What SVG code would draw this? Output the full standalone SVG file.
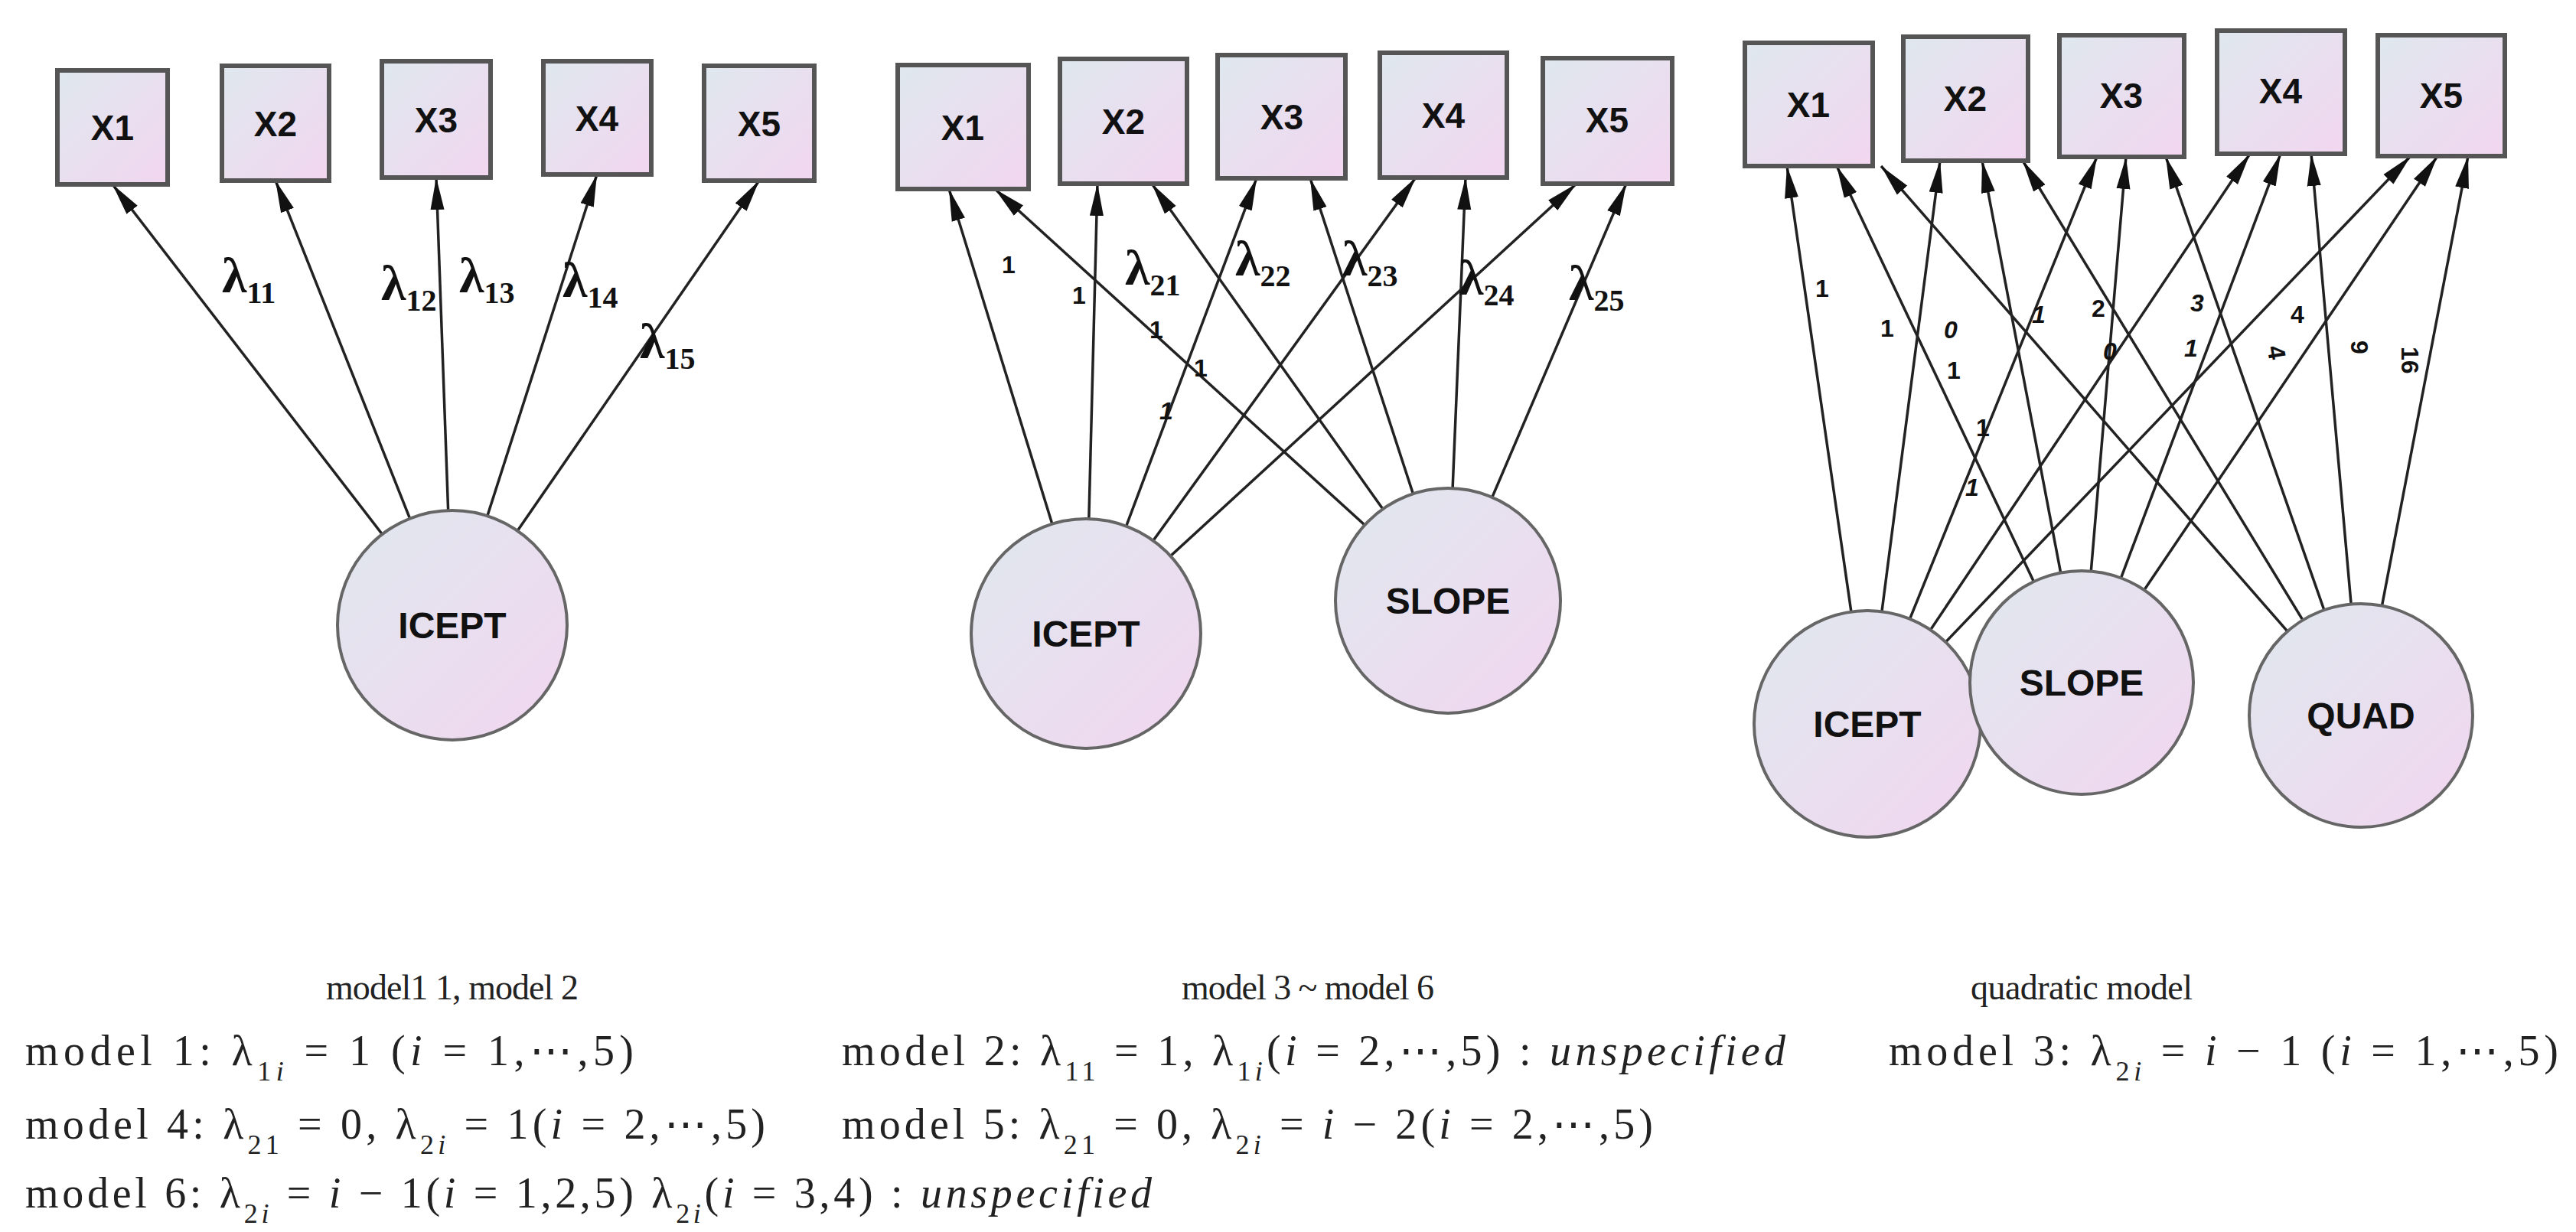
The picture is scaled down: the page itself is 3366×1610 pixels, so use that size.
<svg xmlns="http://www.w3.org/2000/svg" width="3366" height="1610" viewBox="0 0 3366 1610">
<defs>
<linearGradient id="g" x1="0" y1="0" x2="1" y2="1"><stop offset="0" stop-color="#dfe8ee"/><stop offset="1" stop-color="#f2d6f0"/></linearGradient>
<marker id="ah" markerUnits="userSpaceOnUse" markerWidth="44" markerHeight="24" refX="42" refY="12" orient="auto"><path d="M0,3 L42,12 L0,21 Z" fill="#111"/></marker>
<style>
.b{fill:url(#g);stroke:#555;stroke-width:6}
.c{fill:url(#g);stroke:#666;stroke-width:4}
.t{font-family:"Liberation Sans",Arial,sans-serif;font-weight:bold;font-size:46px;text-anchor:middle;fill:#111}
.ct{font-family:"Liberation Sans",Arial,sans-serif;font-weight:bold;font-size:48px;text-anchor:middle;fill:#111}
.cn line{stroke:#222;stroke-width:3.5;marker-end:url(#ah)}
.l{font-family:"Liberation Serif",serif;font-weight:bold;font-size:66px;fill:#111}
.s{font-size:40px}
.fs{font-size:36px}
.n{font-family:"Liberation Sans",Arial,sans-serif;font-weight:bold;font-size:32px;fill:#111}
.cap{font-family:"Liberation Serif",serif;font-size:46px;fill:#222;text-anchor:middle}
.f{font-family:"Liberation Serif",serif;font-size:56px;fill:#222}
.i{font-style:italic}
</style>
</defs>
<rect width="3366" height="1610" fill="#fff"/>
<g id="connectors" class="cn">
<line x1="591" y1="817" x2="147" y2="241"/>
<line x1="591" y1="817" x2="360" y2="236"/>
<line x1="591" y1="817" x2="570" y2="232"/>
<line x1="591" y1="817" x2="780" y2="228"/>
<line x1="591" y1="817" x2="992" y2="236"/>
<line x1="1419" y1="828" x2="1240" y2="247"/>
<line x1="1419" y1="828" x2="1434" y2="240"/>
<line x1="1419" y1="828" x2="1642" y2="233"/>
<line x1="1419" y1="828" x2="1850" y2="232"/>
<line x1="1419" y1="828" x2="2060" y2="240"/>
<line x1="1892" y1="785" x2="1300" y2="247"/>
<line x1="1892" y1="785" x2="1505" y2="240"/>
<line x1="1892" y1="785" x2="1712" y2="233"/>
<line x1="1892" y1="785" x2="1915" y2="232"/>
<line x1="1892" y1="785" x2="2125" y2="240"/>
<line x1="2440" y1="946" x2="2335" y2="217"/>
<line x1="2440" y1="946" x2="2535" y2="210"/>
<line x1="2440" y1="946" x2="2740" y2="205"/>
<line x1="2440" y1="946" x2="2940" y2="201"/>
<line x1="2440" y1="946" x2="3150" y2="204"/>
<line x1="2720" y1="892" x2="2400" y2="217"/>
<line x1="2720" y1="892" x2="2590" y2="210"/>
<line x1="2720" y1="892" x2="2778" y2="205"/>
<line x1="2720" y1="892" x2="2980" y2="201"/>
<line x1="2720" y1="892" x2="3185" y2="204"/>
<line x1="3085" y1="935" x2="2458" y2="217"/>
<line x1="3085" y1="935" x2="2643" y2="210"/>
<line x1="3085" y1="935" x2="2830" y2="205"/>
<line x1="3085" y1="935" x2="3020" y2="201"/>
<line x1="3085" y1="935" x2="3225" y2="204"/>
</g>
<g id="L-X1"><rect class="b" x="75" y="92" width="144" height="149"/><text class="t" x="147" y="183">X1</text></g>
<g id="L-X2"><rect class="b" x="290" y="86" width="140" height="150"/><text class="t" x="360" y="178">X2</text></g>
<g id="L-X3"><rect class="b" x="499" y="80" width="142" height="152"/><text class="t" x="570" y="173">X3</text></g>
<g id="L-X4"><rect class="b" x="710" y="80" width="141" height="148"/><text class="t" x="780" y="171">X4</text></g>
<g id="L-X5"><rect class="b" x="920" y="86" width="144" height="150"/><text class="t" x="992" y="178">X5</text></g>
<g id="L-ICEPT"><circle class="c" cx="591" cy="817" r="150"/><text class="ct" x="591" y="834">ICEPT</text></g>
<g id="M-X1"><rect class="b" x="1173" y="85" width="171" height="162"/><text class="t" x="1258" y="183">X1</text></g>
<g id="M-X2"><rect class="b" x="1385" y="77" width="166" height="163"/><text class="t" x="1468" y="175">X2</text></g>
<g id="M-X3"><rect class="b" x="1591" y="72" width="167" height="161"/><text class="t" x="1675" y="169">X3</text></g>
<g id="M-X4"><rect class="b" x="1803" y="69" width="166" height="163"/><text class="t" x="1886" y="167">X4</text></g>
<g id="M-X5"><rect class="b" x="2016" y="76" width="169" height="164"/><text class="t" x="2100" y="173">X5</text></g>
<g id="M-ICEPT"><circle class="c" cx="1419" cy="828" r="150"/><text class="ct" x="1419" y="845">ICEPT</text></g>
<g id="M-SLOPE"><circle class="c" cx="1892" cy="785" r="147"/><text class="ct" x="1892" y="802">SLOPE</text></g>
<g id="R-X1"><rect class="b" x="2280" y="56" width="167" height="161"/><text class="t" x="2363" y="153">X1</text></g>
<g id="R-X2"><rect class="b" x="2487" y="48" width="163" height="162"/><text class="t" x="2568" y="145">X2</text></g>
<g id="R-X3"><rect class="b" x="2691" y="46" width="163" height="159"/><text class="t" x="2772" y="141">X3</text></g>
<g id="R-X4"><rect class="b" x="2897" y="40" width="167" height="161"/><text class="t" x="2980" y="135">X4</text></g>
<g id="R-X5"><rect class="b" x="3107" y="46" width="166" height="158"/><text class="t" x="3190" y="141">X5</text></g>
<g id="R-ICEPT"><circle class="c" cx="2440" cy="946" r="148"/><text class="ct" x="2440" y="963">ICEPT</text></g>
<g id="R-SLOPE"><circle class="c" cx="2720" cy="892" r="146"/><text class="ct" x="2720" y="909">SLOPE</text></g>
<g id="R-QUAD"><circle class="c" cx="3085" cy="935" r="146"/><text class="ct" x="3085" y="952">QUAD</text></g>
<g id="labels">
<text class="l" x="290" y="382">λ<tspan class="s" dy="14">11</tspan></text>
<text class="l" x="498" y="392">λ<tspan class="s" dy="14">12</tspan></text>
<text class="l" x="600" y="382">λ<tspan class="s" dy="14">13</tspan></text>
<text class="l" x="735" y="388">λ<tspan class="s" dy="14">14</tspan></text>
<text class="l" x="836" y="468">λ<tspan class="s" dy="14">15</tspan></text>
<text class="n" x="1309" y="357">1</text>
<text class="n" x="1401" y="397">1</text>
<text class="l" x="1470" y="372">λ<tspan class="s" dy="14">21</tspan></text>
<text class="l" x="1614" y="360">λ<tspan class="s" dy="14">22</tspan></text>
<text class="l" x="1754" y="360">λ<tspan class="s" dy="14">23</tspan></text>
<text class="l" x="1906" y="385">λ<tspan class="s" dy="14">24</tspan></text>
<text class="l" x="2050" y="392">λ<tspan class="s" dy="14">25</tspan></text>
<text class="n" x="1502" y="442" fill="#611">1</text>
<text class="n" x="1560" y="492">1</text>
<text class="n" x="1515" y="548" font-style="italic">1</text>
<text class="n" x="2372" y="388">1</text>
<text class="n" x="2457" y="440" fill="#4a1a4a">1</text>
<text class="n i" x="2540" y="442">0</text>
<text class="n" x="2544" y="495" fill="#611">1</text>
<text class="n i" x="2655" y="422">1</text>
<text class="n" x="2733" y="414">2</text>
<text class="n i" x="2748" y="470">0</text>
<text class="n i" x="2862" y="407">3</text>
<text class="n i" x="2854" y="466">1</text>
<text class="n" x="2993" y="422">4</text>
<text class="n" x="2972" y="462" transform="rotate(80 2972 452)">4</text>
<text class="n" x="3081" y="454" transform="rotate(90 3081 445)">9</text>
<text class="n" x="3147" y="462" transform="rotate(90 3147 453)">16</text>
<text class="n" x="2582" y="570">1</text>
<text class="n i" x="2568" y="648">1</text>
</g>
<g id="captions">
<text class="cap" x="591" y="1306" textLength="330">model1 1, model 2</text>
<text class="cap" x="1709" y="1306" textLength="330">model 3 ~ model 6</text>
<text class="cap" x="2720" y="1306" textLength="290">quadratic model</text>
</g>
<g id="formulas">
<text class="f" x="33" y="1392" textLength="795">model 1: λ<tspan class="fs" baseline-shift="sub">1<tspan class="i">i</tspan></tspan> = 1  (<tspan class="i">i</tspan> = 1,⋯,5)</text>
<text class="f" x="1100" y="1392" textLength="1233">model 2: λ<tspan class="fs" baseline-shift="sub">11</tspan> = 1, λ<tspan class="fs" baseline-shift="sub">1<tspan class="i">i</tspan></tspan>(<tspan class="i">i</tspan> = 2,⋯,5) : <tspan class="i">unspecified</tspan></text>
<text class="f" x="2468" y="1392" textLength="875">model 3: λ<tspan class="fs" baseline-shift="sub">2<tspan class="i">i</tspan></tspan> = <tspan class="i">i</tspan> − 1  (<tspan class="i">i</tspan> = 1,⋯,5)</text>
<text class="f" x="33" y="1488" textLength="967">model 4: λ<tspan class="fs" baseline-shift="sub">21</tspan> = 0, λ<tspan class="fs" baseline-shift="sub">2<tspan class="i">i</tspan></tspan> = 1(<tspan class="i">i</tspan> = 2,⋯,5)</text>
<text class="f" x="1100" y="1488" textLength="1060">model 5: λ<tspan class="fs" baseline-shift="sub">21</tspan> = 0, λ<tspan class="fs" baseline-shift="sub">2<tspan class="i">i</tspan></tspan> = <tspan class="i">i</tspan> − 2(<tspan class="i">i</tspan> = 2,⋯,5)</text>
<text class="f" x="33" y="1578" textLength="1472">model 6: λ<tspan class="fs" baseline-shift="sub">2<tspan class="i">i</tspan></tspan> = <tspan class="i">i</tspan> − 1(<tspan class="i">i</tspan> = 1,2,5) λ<tspan class="fs" baseline-shift="sub">2<tspan class="i">i</tspan></tspan>(<tspan class="i">i</tspan> = 3,4) : <tspan class="i">unspecified</tspan></text>
</g>
</svg>
